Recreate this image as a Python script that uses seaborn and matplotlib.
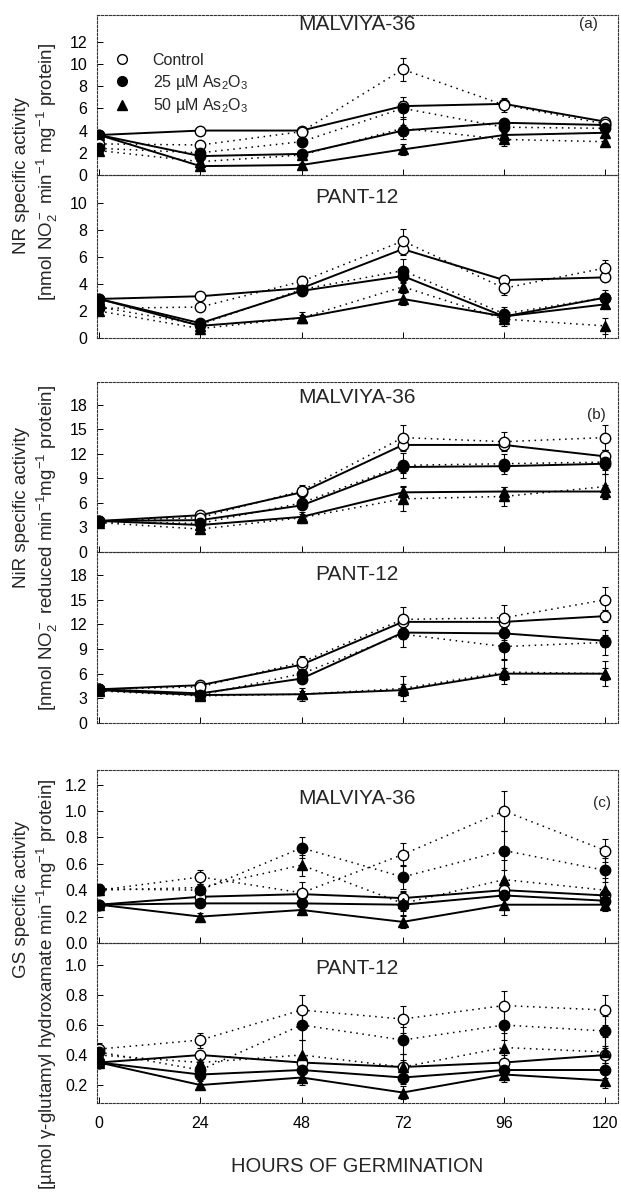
import pandas as pd
import seaborn as sns
import matplotlib.pyplot as plt
from matplotlib.lines import Line2D

hours = [0, 24, 48, 72, 96, 120]

# (a) NR - MALVIYA-36 (solid = first series, dotted = second series)
nr_mal_ctrl = [3.6, 4.0, 4.0, 6.2, 6.4, 4.8]
nr_mal_25 = [3.6, 1.7, 1.9, 4.0, 4.7, 4.5]
nr_mal_50 = [3.6, 0.8, 0.9, 2.3, 3.6, 3.8]
nr_mal_ctrl_dot = [2.8, 2.7, 3.9, 9.5, 6.3, 4.6]
nr_mal_25_dot = [2.4, 2.0, 3.0, 6.0, 4.3, 4.2]
nr_mal_50_dot = [2.2, 1.2, 1.8, 4.2, 3.2, 3.0]
nr_mal_err = [0.3, 0.3, 0.3, 1.0, 0.6, 0.4]

# (a) NR - PANT-12
nr_pant_ctrl = [2.9, 3.1, 3.7, 6.6, 4.3, 4.5]
nr_pant_25 = [2.9, 1.1, 3.5, 4.6, 1.6, 3.0]
nr_pant_50 = [2.9, 0.9, 1.5, 2.9, 1.6, 2.5]
nr_pant_ctrl_dot = [2.2, 2.3, 4.2, 7.2, 3.7, 5.2]
nr_pant_25_dot = [2.3, 1.0, 3.6, 5.0, 1.8, 3.0]
nr_pant_50_dot = [2.0, 0.7, 1.5, 3.8, 1.4, 0.9]
nr_pant_err = [0.3, 0.3, 0.4, 0.9, 0.5, 0.6]

# (b) NiR - MALVIYA-36
nir_mal_ctrl = [3.8, 4.5, 7.3, 13.1, 13.1, 11.7]
nir_mal_25 = [3.8, 3.9, 5.7, 10.4, 10.5, 10.8]
nir_mal_50 = [3.8, 3.3, 4.3, 7.3, 7.4, 7.4]
nir_mal_ctrl_dot = [3.8, 4.2, 7.5, 14.0, 13.5, 14.0]
nir_mal_25_dot = [3.7, 3.5, 6.0, 10.6, 10.8, 11.0]
nir_mal_50_dot = [3.6, 2.8, 4.2, 6.5, 6.8, 8.0]
nir_mal_err = [0.3, 0.5, 0.7, 1.5, 1.2, 1.5]

# (b) NiR - PANT-12
nir_pant_ctrl = [4.1, 4.6, 7.1, 12.3, 12.3, 13.0]
nir_pant_25 = [4.1, 3.6, 5.4, 11.0, 10.9, 10.0]
nir_pant_50 = [4.0, 3.4, 3.5, 4.0, 6.0, 6.0]
nir_pant_ctrl_dot = [4.1, 4.4, 7.4, 12.6, 12.8, 15.0]
nir_pant_25_dot = [4.0, 3.4, 6.0, 10.8, 9.3, 9.8]
nir_pant_50_dot = [3.9, 3.3, 3.5, 4.2, 6.2, 6.0]
nir_pant_err = [0.3, 0.4, 0.8, 1.5, 1.5, 1.5]

# (c) GS - MALVIYA-36
gs_mal_ctrl = [0.29, 0.35, 0.37, 0.34, 0.40, 0.36]
gs_mal_25 = [0.29, 0.30, 0.30, 0.29, 0.36, 0.32]
gs_mal_50 = [0.29, 0.20, 0.25, 0.16, 0.29, 0.29]
gs_mal_ctrl_dot = [0.40, 0.50, 0.38, 0.67, 1.00, 0.70]
gs_mal_25_dot = [0.41, 0.40, 0.72, 0.50, 0.70, 0.55]
gs_mal_50_dot = [0.40, 0.42, 0.59, 0.30, 0.48, 0.40]
gs_mal_err = [0.04, 0.05, 0.08, 0.09, 0.15, 0.09]

# (c) GS - PANT-12
gs_pant_ctrl = [0.35, 0.40, 0.35, 0.32, 0.35, 0.40]
gs_pant_25 = [0.35, 0.27, 0.30, 0.25, 0.30, 0.30]
gs_pant_50 = [0.35, 0.20, 0.25, 0.15, 0.27, 0.23]
gs_pant_ctrl_dot = [0.44, 0.50, 0.70, 0.64, 0.73, 0.70]
gs_pant_25_dot = [0.42, 0.30, 0.60, 0.50, 0.60, 0.56]
gs_pant_50_dot = [0.40, 0.35, 0.40, 0.32, 0.45, 0.42]
gs_pant_err = [0.04, 0.05, 0.10, 0.09, 0.10, 0.10]


def long_df(ctrl, t25, t50, ctrl_d, t25_d, t50_d):
    rows = []
    for trt, part, vals in [("Control", "solid", ctrl), ("25", "solid", t25),
                            ("50", "solid", t50), ("Control", "dot", ctrl_d),
                            ("25", "dot", t25_d), ("50", "dot", t50_d)]:
        for h, v in zip(hours, vals):
            rows.append({"hour": h, "value": v, "trt": trt, "part": part})
    return pd.DataFrame(rows)


sns.set_style("ticks")
plt.rcParams['font.family'] = ['Liberation Sans', 'DejaVu Sans']
plt.rcParams['mathtext.fontset'] = 'custom'
plt.rcParams['mathtext.rm'] = 'Liberation Sans'
plt.rcParams['mathtext.it'] = 'Liberation Sans'

markers = {"Control": "o", "25": "o", "50": "^"}
faces = {"Control": "white", "25": "black", "50": "black"}

W, H = 621.0, 1194.0
fig = plt.figure(figsize=(6.21, 11.94), dpi=100)
L, R = 97 / W, 618 / W


def make_ax(top_px, bot_px):
    return fig.add_axes([L, 1 - bot_px / H, R - L, (bot_px - top_px) / H])


def draw(ax, df, err, ylim, yticks, ticklabels, show_x):
    for (trt, part), g in df.groupby(["trt", "part"], sort=False):
        ls = "-" if part == "solid" else (0, (1, 3))
        lw = 1.4 if part == "solid" else 1.1
        sns.lineplot(data=g, x="hour", y="value", ax=ax, color="black",
                     linestyle=ls, linewidth=lw, marker=markers[trt],
                     markerfacecolor=faces[trt], mec="black", mew=1.0,
                     ms=7.5, legend=False, zorder=3)
        e = err if part == "dot" else [x * 0.5 for x in err]
        ax.errorbar(g["hour"], g["value"], yerr=e, fmt="none", ecolor="black",
                    elinewidth=0.8, capsize=2, capthick=0.8, zorder=2)
    ax.set_xlim(-0.5, 123)
    ax.set_ylim(*ylim)
    ax.set_yticks(yticks)
    ax.set_yticklabels(ticklabels)
    ax.set_xticks(hours)
    if show_x:
        ax.set_xticklabels([str(h) for h in hours])
    else:
        ax.set_xticklabels([])
    ax.set_xlabel("")
    ax.set_ylabel("")
    ax.tick_params(axis="y", direction="in", length=4, width=0.7,
                   labelsize=11.5, colors="black", pad=7)
    ax.tick_params(axis="x", direction="in", length=4, width=0.7,
                   labelsize=11.5, colors="black", pad=9)
    for s in ax.spines.values():
        s.set_visible(True)
        s.set_linewidth(0.8)
        s.set_linestyle((0, (2, 1.5)))
        s.set_color("#333333")
    ax.set_facecolor("none")


def ftext(x_px, y_px, s, **kw):
    fig.text(x_px / W, 1 - y_px / H, s, ha="center", va="center", **kw)


# panel (a)
ax1 = make_ax(15, 175)
draw(ax1, long_df(nr_mal_ctrl, nr_mal_25, nr_mal_50, nr_mal_ctrl_dot,
                  nr_mal_25_dot, nr_mal_50_dot), nr_mal_err,
     (0, 14.4), [0, 2, 4, 6, 8, 10, 12], ["0", "2", "4", "6", "8", "10", "12"],
     False)
ax2 = make_ax(175, 338)
draw(ax2, long_df(nr_pant_ctrl, nr_pant_25, nr_pant_50, nr_pant_ctrl_dot,
                  nr_pant_25_dot, nr_pant_50_dot), nr_pant_err,
     (0, 12.1), [0, 2, 4, 6, 8, 10], ["0", "2", "4", "6", "8", "10"], False)

# panel (b)
ax3 = make_ax(382, 552)
draw(ax3, long_df(nir_mal_ctrl, nir_mal_25, nir_mal_50, nir_mal_ctrl_dot,
                  nir_mal_25_dot, nir_mal_50_dot), nir_mal_err,
     (0, 20.8), [0, 3, 6, 9, 12, 15, 18], ["0", "3", "6", "9", "12", "15", "18"],
     False)
ax4 = make_ax(552, 723)
draw(ax4, long_df(nir_pant_ctrl, nir_pant_25, nir_pant_50, nir_pant_ctrl_dot,
                  nir_pant_25_dot, nir_pant_50_dot), nir_pant_err,
     (0, 20.8), [0, 3, 6, 9, 12, 15, 18], ["0", "3", "6", "9", "12", "15", "18"],
     False)

# panel (c)
ax5 = make_ax(770, 943)
draw(ax5, long_df(gs_mal_ctrl, gs_mal_25, gs_mal_50, gs_mal_ctrl_dot,
                  gs_mal_25_dot, gs_mal_50_dot), gs_mal_err,
     (0, 1.31), [0, 0.2, 0.4, 0.6, 0.8, 1.0, 1.2],
     ["0.0", "0.2", "0.4", "0.6", "0.8", "1.0", "1.2"], False)
ax6 = make_ax(943, 1103)
draw(ax6, long_df(gs_pant_ctrl, gs_pant_25, gs_pant_50, gs_pant_ctrl_dot,
                  gs_pant_25_dot, gs_pant_50_dot), gs_pant_err,
     (0.08, 1.147), [0.2, 0.4, 0.6, 0.8, 1.0], ["0.2", "0.4", "0.6", "0.8", "1.0"],
     True)
ax6.set_xlabel("HOURS OF GERMINATION", fontsize=14.5, labelpad=19)

# titles and panel letters
for y_px, name in [(24, "MALVIYA-36"), (198, "PANT-12"), (398, "MALVIYA-36"),
                   (575, "PANT-12"), (798, "MALVIYA-36"), (968, "PANT-12")]:
    ftext(357, y_px, name, fontsize=15)
ftext(588, 24, "(a)", fontsize=11)
ftext(596, 415, "(b)", fontsize=11)
ftext(602, 803, "(c)", fontsize=11)

# legend in panel (a)
handles = [Line2D([], [], ls="none", marker="o", mfc="white", mec="black", ms=7),
           Line2D([], [], ls="none", marker="o", mfc="black", mec="black", ms=7),
           Line2D([], [], ls="none", marker="^", mfc="black", mec="black", ms=7)]
ax1.legend(handles, ["Control", "25 µM As$_2$O$_3$", "50 µM As$_2$O$_3$"],
           loc="center left", bbox_to_anchor=(0.033, (175 - 84) / 160),
           frameon=False, fontsize=11.5, handlelength=1.0, handletextpad=1.4,
           labelspacing=0.3, borderpad=0, borderaxespad=0)

# y labels
ftext(22, 176, "NR specific activity", rotation=90, fontsize=13.5)
ftext(47, 172, "[nmol NO$_2^-$ min$^{-1}$ mg$^{-1}$ protein]", rotation=90,
      fontsize=13.5)
ftext(22, 508, "NiR specific activity", rotation=90, fontsize=13.5)
ftext(47, 548, "[nmol NO$_2^-$ reduced min$^{-1}$mg$^{-1}$ protein]",
      rotation=90, fontsize=13.5)
ftext(22, 899, "GS specific activity", rotation=90, fontsize=13.5)
ftext(47, 984, "[µmol γ-glutamyl hydroxamate min$^{-1}$mg$^{-1}$ protein]",
      rotation=90, fontsize=13.5)

fig.savefig("out.png", dpi=100)
